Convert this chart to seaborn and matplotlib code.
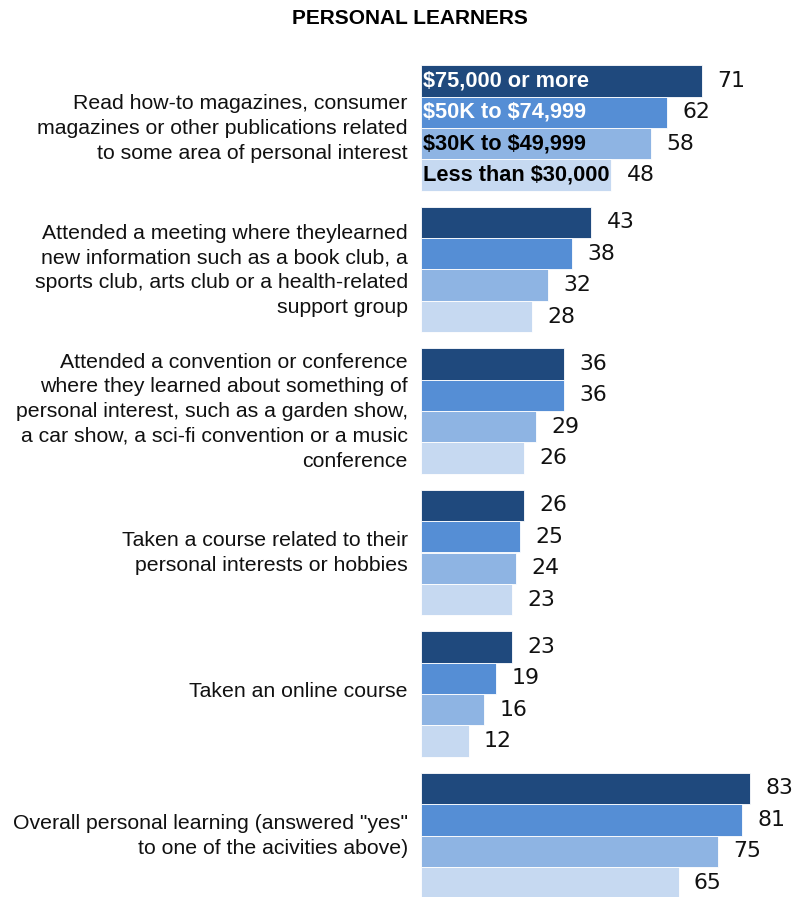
import matplotlib
matplotlib.use("Agg")
import matplotlib.pyplot as plt
import matplotlib.transforms as mtransforms
import seaborn as sns
import pandas as pd

# Survey items (row labels), wrapped as they are shown
activities = [
    "Read how-to magazines, consumer\nmagazines or other publications related\nto some area of personal interest",
    "Attended a meeting where theylearned\nnew information such as a book club, a\nsports club, arts club or a health-related\nsupport group",
    "Attended a convention or conference\nwhere they learned about something of\npersonal interest, such as a garden show,\na car show, a sci-fi convention or a music\nconference",
    "Taken a course related to their\npersonal interests or hobbies",
    "Taken an online course",
    "Overall personal learning (answered \"yes\"\nto one of the acivities above)",
]

income_groups = ["$75,000 or more", "$50K to $74,999", "$30K to $49,999", "Less than $30,000"]

# Percent of each income group
pct_75k_plus = [71, 43, 36, 26, 23, 83]
pct_50k_75k = [62, 38, 36, 25, 19, 81]
pct_30k_50k = [58, 32, 29, 24, 16, 75]
pct_under_30k = [48, 28, 26, 23, 12, 65]

colors = ["#1F497D", "#558ED5", "#8EB4E3", "#C6D9F1"]
inside_text_colors = ["white", "white", "black", "black"]

rows = []
for group, vals in zip(income_groups, [pct_75k_plus, pct_50k_75k, pct_30k_50k, pct_under_30k]):
    for act, v in zip(activities, vals):
        rows.append({"activity": act, "income": group, "pct": v})
df = pd.DataFrame(rows)

sns.set_theme(style="white")
plt.rcParams["font.family"] = ["Liberation Sans", "DejaVu Sans"]
plt.rcParams["text.parse_math"] = False

W, H = 804, 897
fig = plt.figure(figsize=(W / 100, H / 100), dpi=100)
ax_left = 421 / W
ax = fig.add_axes([ax_left, 0.0, 1 - ax_left, 1.0])

sns.barplot(
    data=df, y="activity", x="pct", hue="income",
    order=activities, hue_order=income_groups,
    palette=colors, saturation=1, orient="h", width=0.89, gap=0,
    edgecolor="white", linewidth=0.6, legend=False, ax=ax,
)

px_per_unit = 3.964
ax.set_xlim(0, (W - 421) / px_per_unit)
step = 141.5
first_center = 128
ax.set_ylim(5 + (H - (first_center + 5 * step)) / step, -first_center / step)

for container in ax.containers:
    ax.bar_label(container, fmt="%d", padding=11, fontsize=15.8, color="#111111",
                 family="DejaVu Sans")

# Income group names written inside the first row of bars
for container, name, tc in zip(ax.containers, income_groups, inside_text_colors):
    bar = container.patches[0]
    ax.text(0.5, bar.get_y() + bar.get_height() / 2, name, ha="left", va="center",
            fontsize=15.7, fontweight="bold", color=tc)

ax.set_xlabel("")
ax.set_ylabel("")
ax.set_xticks([])
ax.tick_params(axis="y", length=0, pad=9.5, labelsize=15.3)
# nudge the wrapped row labels up slightly so they sit centred on each bar group
nudge = mtransforms.ScaledTranslation(0, 3 / 72, fig.dpi_scale_trans)
for lbl in ax.get_yticklabels():
    lbl.set_horizontalalignment("right")
    lbl.set_multialignment("right")
    lbl.set_linespacing(1.38)
    lbl.set_color("#111111")
    lbl.set_transform(lbl.get_transform() + nudge)
sns.despine(ax=ax, left=True, bottom=True)

fig.text(410 / W, 1 - 19 / H, "PERSONAL LEARNERS", ha="center", va="center",
         fontsize=15, fontweight="bold", color="black")

fig.savefig("out.png", dpi=100, facecolor="white")
